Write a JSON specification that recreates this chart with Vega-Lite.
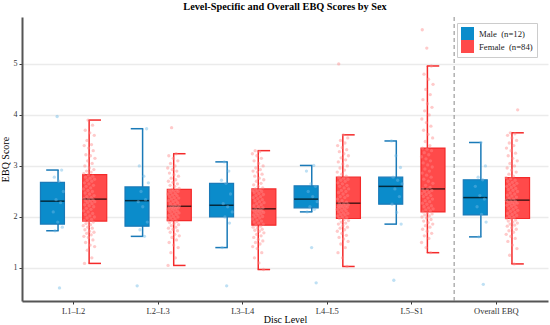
{
  "$schema": "https://vega.github.io/schema/vega-lite/v6.json",
  "width": 526,
  "height": 284,
  "autosize": "none",
  "padding": {"left": 22, "top": 17, "right": 2, "bottom": 24},
  "background": "white",
  "title": {"text": "Level-Specific and Overall EBQ Scores by Sex", "font": "Liberation Serif", "fontSize": 10.3, "fontWeight": "bold", "color": "#000000", "anchor": "middle", "offset": 4},
  "config": {
    "view": {"stroke": null},
    "axis": {"labelFont": "Liberation Serif", "titleFont": "Liberation Serif", "labelColor": "#333333", "titleColor": "#000000", "titleFontWeight": "normal", "domainColor": "#555555", "domainWidth": 2, "tickColor": "#333333", "tickSize": 3, "gridColor": "#ebebeb", "gridWidth": 1.3},
    "legend": {"labelFont": "Liberation Serif"}
  },
  "datasets": {
    "boxes": [
      {"level": "L1–L2", "sex": "Male", "lo": 1.73, "q1": 1.86, "med": 2.31, "q3": 2.68, "hi": 2.92},
      {"level": "L1–L2", "sex": "Female", "lo": 1.09, "q1": 1.92, "med": 2.35, "q3": 2.83, "hi": 3.90},
      {"level": "L2–L3", "sex": "Male", "lo": 1.62, "q1": 1.82, "med": 2.32, "q3": 2.59, "hi": 3.73},
      {"level": "L2–L3", "sex": "Female", "lo": 1.05, "q1": 1.93, "med": 2.21, "q3": 2.54, "hi": 3.24},
      {"level": "L3–L4", "sex": "Male", "lo": 1.40, "q1": 2.00, "med": 2.23, "q3": 2.66, "hi": 3.08},
      {"level": "L3–L4", "sex": "Female", "lo": 0.97, "q1": 1.84, "med": 2.16, "q3": 2.55, "hi": 3.30},
      {"level": "L4–L5", "sex": "Male", "lo": 2.10, "q1": 2.18, "med": 2.35, "q3": 2.61, "hi": 3.01},
      {"level": "L4–L5", "sex": "Female", "lo": 1.03, "q1": 1.97, "med": 2.27, "q3": 2.78, "hi": 3.61},
      {"level": "L5–S1", "sex": "Male", "lo": 1.86, "q1": 2.25, "med": 2.60, "q3": 2.78, "hi": 3.49},
      {"level": "L5–S1", "sex": "Female", "lo": 1.30, "q1": 2.10, "med": 2.55, "q3": 3.35, "hi": 4.96},
      {"level": "Overall EBQ", "sex": "Male", "lo": 1.61, "q1": 2.04, "med": 2.38, "q3": 2.73, "hi": 3.46},
      {"level": "Overall EBQ", "sex": "Female", "lo": 1.08, "q1": 1.97, "med": 2.33, "q3": 2.77, "hi": 3.65}
    ],
    "pts": [
      {"level": "L1–L2", "group": "Male", "v": [0.61,1.73,1.8,1.9,2.1,2.28,2.34,2.5,2.7,2.78,2.92,3.97]},
      {"level": "L2–L3", "group": "Male", "v": [0.65,1.62,1.75,1.9,2.2,2.3,2.34,2.5,2.67,2.8,3.0,3.73]},
      {"level": "L3–L4", "group": "Male", "v": [0.65,1.4,1.88,2.0,2.1,2.2,2.26,2.45,2.66,2.72,2.9,3.08]},
      {"level": "L4–L5", "group": "Male", "v": [0.71,1.4,2.1,2.15,2.2,2.3,2.4,2.5,2.6,2.65,2.9,3.01]},
      {"level": "L5–S1", "group": "Male", "v": [0.76,1.86,2.09,2.25,2.4,2.55,2.65,2.72,2.78,2.97,3.2,3.49]},
      {"level": "Overall EBQ", "group": "Male", "v": [0.68,1.61,1.9,2.05,2.2,2.35,2.42,2.6,2.73,2.78,3.0,3.46]},
      {"level": "L1–L2", "group": "Female", "v": [1.09,1.2,1.35,1.42,1.45,1.5,1.55,1.6,1.62,1.65,1.68,1.7,1.72,1.75,1.78,1.8,1.83,1.85,1.87,1.9,1.91,1.93,1.95,1.98,2.0,2.02,2.05,2.07,2.1,2.12,2.15,2.17,2.2,2.22,2.24,2.26,2.28,2.3,2.31,2.32,2.34,2.35,2.36,2.38,2.4,2.42,2.45,2.47,2.5,2.52,2.55,2.57,2.6,2.62,2.65,2.67,2.7,2.72,2.74,2.76,2.78,2.8,2.83,2.85,2.88,2.9,2.93,2.96,3.0,3.05,3.1,3.15,3.2,3.22,3.3,3.35,3.4,3.42,3.5,3.6,3.65,3.7,3.8,3.9]},
      {"level": "L2–L3", "group": "Female", "v": [1.05,1.2,1.3,1.4,1.45,1.5,1.55,1.6,1.63,1.66,1.7,1.73,1.76,1.78,1.8,1.83,1.85,1.87,1.89,1.91,1.93,1.94,1.96,1.98,2.0,2.01,2.03,2.05,2.06,2.08,2.1,2.11,2.12,2.14,2.15,2.16,2.17,2.18,2.19,2.2,2.2,2.21,2.22,2.24,2.26,2.28,2.3,2.32,2.33,2.35,2.37,2.38,2.4,2.42,2.43,2.45,2.46,2.48,2.5,2.51,2.52,2.53,2.54,2.56,2.6,2.62,2.65,2.68,2.7,2.73,2.76,2.8,2.83,2.86,2.9,2.93,2.96,3.0,3.05,3.1,3.15,3.2,3.24,3.75]},
      {"level": "L3–L4", "group": "Female", "v": [0.97,1.1,1.2,1.3,1.38,1.42,1.47,1.5,1.53,1.56,1.6,1.63,1.66,1.69,1.72,1.74,1.76,1.78,1.8,1.82,1.84,1.86,1.88,1.9,1.92,1.94,1.96,1.98,2.0,2.01,2.03,2.04,2.06,2.07,2.09,2.1,2.11,2.12,2.13,2.14,2.15,2.16,2.18,2.2,2.22,2.24,2.26,2.28,2.3,2.32,2.34,2.36,2.38,2.4,2.42,2.44,2.46,2.48,2.5,2.51,2.52,2.54,2.55,2.57,2.6,2.63,2.66,2.7,2.73,2.76,2.8,2.84,2.88,2.9,2.93,2.96,3.0,3.05,3.1,3.15,3.2,3.24,3.28,3.3]},
      {"level": "L4–L5", "group": "Female", "v": [1.03,1.2,1.3,1.4,1.47,1.52,1.57,1.6,1.64,1.68,1.72,1.75,1.78,1.8,1.83,1.86,1.88,1.9,1.93,1.95,1.97,1.98,2.0,2.02,2.04,2.05,2.07,2.08,2.1,2.12,2.13,2.15,2.16,2.18,2.19,2.2,2.21,2.22,2.23,2.24,2.26,2.27,2.29,2.32,2.35,2.38,2.4,2.42,2.45,2.48,2.5,2.52,2.55,2.57,2.6,2.62,2.65,2.67,2.7,2.72,2.74,2.76,2.78,2.8,2.84,2.88,2.92,2.96,3.0,3.04,3.08,3.12,3.16,3.2,3.24,3.28,3.32,3.36,3.4,3.45,3.5,3.55,3.61,5.0]},
      {"level": "L5–S1", "group": "Female", "v": [1.3,1.4,1.5,1.58,1.63,1.68,1.72,1.76,1.8,1.83,1.86,1.89,1.92,1.95,1.98,2.0,2.02,2.04,2.06,2.08,2.1,2.12,2.14,2.16,2.18,2.2,2.22,2.25,2.27,2.3,2.32,2.35,2.37,2.4,2.42,2.44,2.46,2.48,2.5,2.52,2.54,2.55,2.58,2.62,2.66,2.7,2.74,2.78,2.82,2.86,2.9,2.94,2.98,3.02,3.06,3.1,3.14,3.18,3.22,3.26,3.3,3.33,3.35,3.4,3.48,3.55,3.62,3.7,3.78,3.85,3.92,4.0,4.08,4.15,4.22,4.3,4.4,4.5,4.6,4.7,4.8,4.96,5.31,5.67]},
      {"level": "Overall EBQ", "group": "Female", "v": [1.08,1.25,1.38,1.45,1.52,1.58,1.62,1.66,1.7,1.73,1.76,1.79,1.82,1.84,1.86,1.88,1.9,1.92,1.94,1.96,1.97,1.99,2.01,2.03,2.05,2.07,2.09,2.11,2.13,2.15,2.17,2.19,2.21,2.23,2.24,2.26,2.27,2.28,2.3,2.31,2.32,2.33,2.35,2.37,2.39,2.41,2.43,2.45,2.47,2.5,2.52,2.54,2.56,2.58,2.6,2.62,2.64,2.66,2.68,2.7,2.72,2.75,2.77,2.8,2.84,2.88,2.92,2.96,3.0,3.05,3.1,3.15,3.2,3.25,3.3,3.35,3.4,3.45,3.5,3.55,3.6,3.63,3.65,4.1]}
    ]
  },
  "encoding": {
    "x": {"field": "level", "type": "nominal", "scale": {"domain": ["L1–L2", "L2–L3", "L3–L4", "L4–L5", "L5–S1", "Overall EBQ"], "paddingInner": 0, "paddingOuter": 0.11}, "axis": {"title": "Disc Level", "labelAngle": 0, "labelFont": "Liberation Serif", "labelFontSize": 8.5, "titleFont": "Liberation Serif", "titleFontSize": 10, "labelPadding": 2, "titleBaseline": "alphabetic", "titleY": 21, "grid": false}}
  },
  "layer": [
    {
      "data": {"values": [{"level": "Overall EBQ"}]},
      "mark": {"type": "rule", "color": "#888888", "strokeDash": [4, 3], "strokeWidth": 1},
      "encoding": {"x": {"field": "level", "type": "nominal", "bandPosition": 0}}
    },
    {
      "data": {"name": "boxes"},
      "mark": {"type": "rule", "strokeWidth": 1.5},
      "encoding": {
        "xOffset": {"field": "sex", "type": "nominal", "scale": {"domain": ["Male", "Female"], "paddingInner": 0, "paddingOuter": 0.36}},
        "y": {"field": "lo", "type": "quantitative", "scale": {"domain": [0.353, 5.92], "nice": false, "zero": false}, "axis": {"title": "EBQ Score", "values": [1, 2, 3, 4, 5], "format": "d", "grid": true, "labelFont": "Liberation Serif", "labelFontSize": 8, "titleFont": "Liberation Serif", "titleFontSize": 10, "labelPadding": 2, "titlePadding": 3}},
        "y2": {"field": "hi"},
        "stroke": {"field": "sex", "type": "nominal", "scale": {"domain": ["Male", "Female"], "range": ["#1a7ab8", "#f42a2a"]}}
      }
    },
    {
      "data": {"name": "boxes"},
      "mark": {"type": "tick", "size": 11, "thickness": 0.01, "strokeWidth": 1.5, "fillOpacity": 0},
      "encoding": {
        "xOffset": {"field": "sex", "type": "nominal", "scale": {"domain": ["Male", "Female"]}},
        "y": {"field": "lo", "type": "quantitative"},
        "stroke": {"field": "sex", "type": "nominal"}
      }
    },
    {
      "data": {"name": "boxes"},
      "mark": {"type": "tick", "size": 11, "thickness": 0.01, "strokeWidth": 1.5, "fillOpacity": 0},
      "encoding": {
        "xOffset": {"field": "sex", "type": "nominal", "scale": {"domain": ["Male", "Female"]}},
        "y": {"field": "hi", "type": "quantitative"},
        "stroke": {"field": "sex", "type": "nominal"}
      }
    },
    {
      "data": {"name": "boxes"},
      "mark": {"type": "bar", "size": 24, "strokeWidth": 1.2},
      "encoding": {
        "xOffset": {"field": "sex", "type": "nominal", "scale": {"domain": ["Male", "Female"]}},
        "y": {"field": "q1", "type": "quantitative"},
        "y2": {"field": "q3"},
        "fill": {"field": "sex", "type": "nominal", "scale": {"domain": ["Male", "Female"], "range": ["#0b8ccb", "#ff4a4a"]}, "legend": {"title": null, "orient": "none", "legendX": 435, "legendY": 6, "symbolType": "square", "symbolSize": 169, "symbolStrokeWidth": 0, "symbolOpacity": 1, "rowPadding": 0, "labelFont": "Liberation Serif", "labelFontSize": 8.7, "labelColor": "#222222", "labelOffset": 5, "padding": 4, "strokeColor": "#cccccc", "fillColor": "white", "labelExpr": "datum.label == 'Male' ? 'Male\u00a0 (n=12)' : 'Female\u00a0 (n=84)'"}},
        "stroke": {"field": "sex", "type": "nominal"}
      }
    },
    {
      "data": {"name": "boxes"},
      "mark": {"type": "tick", "size": 24, "thickness": 1.5, "color": "#000000"},
      "encoding": {
        "xOffset": {"field": "sex", "type": "nominal", "scale": {"domain": ["Male", "Female"]}},
        "y": {"field": "med", "type": "quantitative"}
      }
    },
    {
      "data": {"name": "pts"},
      "transform": [
        {"flatten": ["v"]},
        {"window": [{"op": "row_number", "as": "rn"}]},
        {"calculate": "(datum.group == 'Male' ? 0.317 : 0.683) + (((datum.rn * 0.6180339887) % 1) - 0.5) * 0.14", "as": "jx"}
      ],
      "mark": {"type": "circle", "size": 11, "opacity": 0.45},
      "encoding": {
        "xOffset": {"field": "jx", "type": "quantitative", "scale": {"domain": [0, 1], "range": [0, 84.57]}},
        "y": {"field": "v", "type": "quantitative"},
        "color": {"field": "group", "type": "nominal", "scale": {"domain": ["Male", "Female"], "range": ["#6fbbe6", "#ff8a8a"]}, "legend": null}
      }
    }
  ]
}
